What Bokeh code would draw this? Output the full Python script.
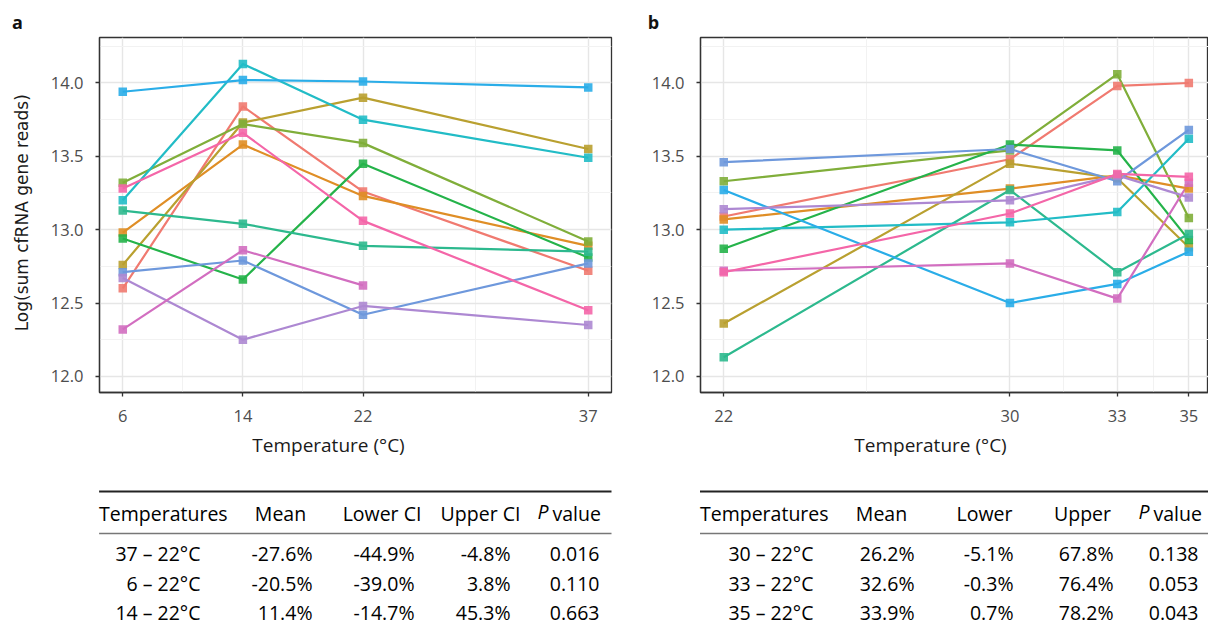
import math
from bokeh.plotting import figure
from bokeh.layouts import column, row
from bokeh.models import Range1d, FixedTicker
from bokeh.core.properties import value
from bokeh.embed import file_html
from bokeh.resources import INLINE

NAN = float("nan")

# ---------------- data ----------------
temps_a = [6, 14, 22, 37]
temps_b = [22, 30, 33, 35]

series_order = ["salmon", "orange", "gold", "olive", "green", "teal",
                "cyan", "skyblue", "blue", "purple", "magenta", "pink"]

colors = {
    "salmon": "#F07A70", "orange": "#DF8E26", "gold": "#B9A030", "olive": "#80AE3A",
    "green": "#25B34A", "teal": "#2DB98E", "cyan": "#22BCC6", "skyblue": "#2AADE8",
    "blue": "#6E98DC", "purple": "#AD88D2", "magenta": "#D26EC0", "pink": "#F466A8",
}

a_salmon = [12.60, 13.84, 13.26, 12.72]
a_orange = [12.98, 13.58, 13.23, 12.89]
a_gold = [12.76, 13.73, 13.90, 13.55]
a_olive = [13.32, 13.72, 13.59, 12.92]
a_green = [12.94, 12.66, 13.45, 12.81]
a_teal = [13.13, 13.04, 12.89, 12.85]
a_cyan = [13.20, 14.13, 13.75, 13.49]
a_skyblue = [13.94, 14.02, 14.01, 13.97]
a_blue = [12.71, 12.79, 12.42, 12.77]
a_purple = [12.67, 12.25, 12.48, 12.35]
a_magenta = [12.32, 12.86, 12.62, NAN]
a_pink = [13.28, 13.66, 13.06, 12.45]

b_salmon = [13.09, 13.48, 13.98, 14.00]
b_orange = [13.07, 13.28, 13.37, 13.28]
b_gold = [12.36, 13.45, 13.35, 12.88]
b_olive = [13.33, 13.54, 14.06, 13.08]
b_green = [12.87, 13.58, 13.54, 12.93]
b_teal = [12.13, 13.27, 12.71, 12.97]
b_cyan = [13.00, 13.05, 13.12, 13.62]
b_skyblue = [13.27, 12.50, 12.63, 12.85]
b_blue = [13.46, 13.55, 13.33, 13.68]
b_purple = [13.14, 13.20, 13.37, 13.22]
b_magenta = [12.72, 12.77, 12.53, 13.32]
b_pink = [12.71, 13.11, 13.38, 13.36]

series_a = {"salmon": a_salmon, "orange": a_orange, "gold": a_gold, "olive": a_olive,
            "green": a_green, "teal": a_teal, "cyan": a_cyan, "skyblue": a_skyblue,
            "blue": a_blue, "purple": a_purple, "magenta": a_magenta, "pink": a_pink}
series_b = {"salmon": b_salmon, "orange": b_orange, "gold": b_gold, "olive": b_olive,
            "green": b_green, "teal": b_teal, "cyan": b_cyan, "skyblue": b_skyblue,
            "blue": b_blue, "purple": b_purple, "magenta": b_magenta, "pink": b_pink}

y_ticks = [12.0, 12.5, 13.0, 13.5, 14.0]
y_tick_labels = ["12.0", "12.5", "13.0", "13.5", "14.0"]
y_minor = [12.25, 12.75, 13.25, 13.75, 14.25]
xa_ticks = [6, 14, 22, 37]
xa_minor = [10, 18, 29.5]
xb_ticks = [22, 30, 33, 35]
xb_minor = [26, 31.5, 34]

x_title = "Temperature (°C)"
y_title = "Log(sum cfRNA gene reads)"

ta_head = ["Temperatures", "Mean", "Lower CI", "Upper CI"]
ta_temps = ["37 – 22°C", "6 – 22°C", "14 – 22°C"]
ta_mean = ["-27.6%", "-20.5%", "11.4%"]
ta_lower = ["-44.9%", "-39.0%", "-14.7%"]
ta_upper = ["-4.8%", "3.8%", "45.3%"]
ta_p = ["0.016", "0.110", "0.663"]

tb_head = ["Temperatures", "Mean", "Lower", "Upper"]
tb_temps = ["30 – 22°C", "33 – 22°C", "35 – 22°C"]
tb_mean = ["26.2%", "32.6%", "33.9%"]
tb_lower = ["-5.1%", "-0.3%", "0.7%"]
tb_upper = ["67.8%", "76.4%", "78.2%"]
tb_p = ["0.138", "0.053", "0.043"]

FONT = value("Open Sans")
TFS = "19.5px"


# ---------------- plot panels ----------------
def make_panel(xs, series, xr, xt, xminor, width, bl, br):
    p = figure(width=width, height=395, x_range=Range1d(*xr), y_range=Range1d(11.89, 14.31),
               output_backend="svg", toolbar_location=None,
               min_border_left=bl, min_border_right=br, min_border_top=4, min_border_bottom=36)
    p.outline_line_color = "#333333"
    p.outline_line_width = 1.3
    p.background_fill_color = "white"
    p.border_fill_color = "white"
    p.xaxis.ticker = FixedTicker(ticks=xt, minor_ticks=xminor)
    p.yaxis.ticker = FixedTicker(ticks=y_ticks, minor_ticks=y_minor)
    p.yaxis.major_label_overrides = {t: l for t, l in zip(y_ticks, y_tick_labels)}
    p.xaxis.major_label_overrides = {t: str(t) for t in xt}
    for ax in (p.xaxis, p.yaxis):
        ax.axis_line_color = "#333333"
        ax.axis_line_width = 1.3
        ax.major_tick_line_color = "#333333"
        ax.major_tick_line_width = 1.3
        ax.major_tick_out = 4
        ax.major_tick_in = 0
        ax.minor_tick_line_color = None
        ax.major_label_text_font = "Open Sans"
        ax.major_label_text_font_size = "16.5px"
        ax.major_label_text_color = "#4D4D4D"
    p.xaxis.major_label_standoff = 13
    p.yaxis.major_label_standoff = 12
    for g in (p.xgrid, p.ygrid):
        g.grid_line_color = "#E6E6E6"
        g.grid_line_width = 1.4
        g.minor_grid_line_color = "#F2F2F2"
        g.minor_grid_line_width = 1.0
    for name in series_order:
        p.line(xs, series[name], line_color=colors[name], line_width=2.2)
    for name in series_order:
        p.scatter(xs, series[name], marker="square", size=8.5, fill_color=colors[name],
                  line_color=None, fill_alpha=0.9)
    return p


fig_a = make_panel(temps_a, series_a, (4.45, 38.55), xa_ticks, xa_minor, 602, 61, 29)
fig_b = make_panel(temps_b, series_b, (21.35, 35.55), xb_ticks, xb_minor, 568, 60, 0)


# ---------------- helper (text) canvases ----------------
def canvas(width, height, x0, y0):
    c = figure(width=width, height=height, x_range=Range1d(x0, x0 + width),
               y_range=Range1d(y0 + height, y0), output_backend="svg", toolbar_location=None,
               min_border=0)
    c.axis.visible = False
    c.grid.visible = False
    c.outline_line_color = None
    return c


strip = canvas(1208, 33, 0, 0)
strip.text(x=[17, 653], y=[21, 21], text=["a", "b"], text_font=FONT, text_font_size="18px",
           text_font_style="bold", text_align="center", text_baseline="middle", text_color="#111111")

ylab = canvas(38, 395, 0, 33)
ylab.text(x=[21], y=[228], text=[y_title], text_font=value("DejaVu Sans"), text_font_size="17px",
          angle=math.pi / 2, text_align="center", text_baseline="middle", text_color="#1A1A1A")


def table(c, title_x, left, right, head, head_x, temps, cols, col_right, temp_right, p_x):
    c.text(x=[title_x], y=[444], text=[x_title], text_font=FONT, text_font_size="19px",
           text_align="center", text_baseline="middle", text_color="#1A1A1A")
    c.segment(x0=[left], y0=[491], x1=[right], y1=[491], line_color="#222222", line_width=2)
    c.segment(x0=[left], y0=[533], x1=[right], y1=[533], line_color="#777777", line_width=1.5)
    c.text(x=[left], y=[512.5], text=[head[0]], text_font=FONT, text_font_size=TFS,
           text_align="left", text_baseline="middle", text_color="#000000")
    c.text(x=head_x, y=[512.5] * len(head_x), text=head[1:], text_font=FONT, text_font_size=TFS,
           text_align="center", text_baseline="middle", text_color="#000000")
    c.text(x=[p_x], y=[511], text=["P"], text_font=FONT, text_font_size=TFS,
           text_font_style="italic", text_align="right", text_baseline="middle", text_color="#000000")
    c.text(x=[p_x + 4], y=[512.5], text=["value"], text_font=FONT, text_font_size=TFS,
           text_align="left", text_baseline="middle", text_color="#000000")
    rows_y = [553, 583, 612]
    c.text(x=[temp_right] * 3, y=rows_y, text=temps, text_font=FONT, text_font_size=TFS,
           text_align="right", text_baseline="middle", text_color="#000000")
    for vals, xr in zip(cols, col_right):
        c.text(x=[xr] * 3, y=rows_y, text=vals, text_font=FONT, text_font_size=TFS,
               text_align="right", text_baseline="middle", text_color="#000000")


tab_a = canvas(640, 202, 0, 428)
table(tab_a, 328, 98.6, 611, ta_head, [280, 381.5, 480], ta_temps,
      [ta_mean, ta_lower, ta_upper, ta_p], [312, 414, 510, 599], 200, 548)

tab_b = canvas(568, 202, 640, 428)
table(tab_b, 930, 699.5, 1208, tb_head, [881, 984, 1082], tb_temps,
      [tb_mean, tb_lower, tb_upper, tb_p], [914, 1013, 1113, 1198], 813, 1149)

layout = column(strip, row(ylab, fig_a, fig_b), row(tab_a, tab_b))

open("out.html", "w").write(file_html(layout, INLINE))
